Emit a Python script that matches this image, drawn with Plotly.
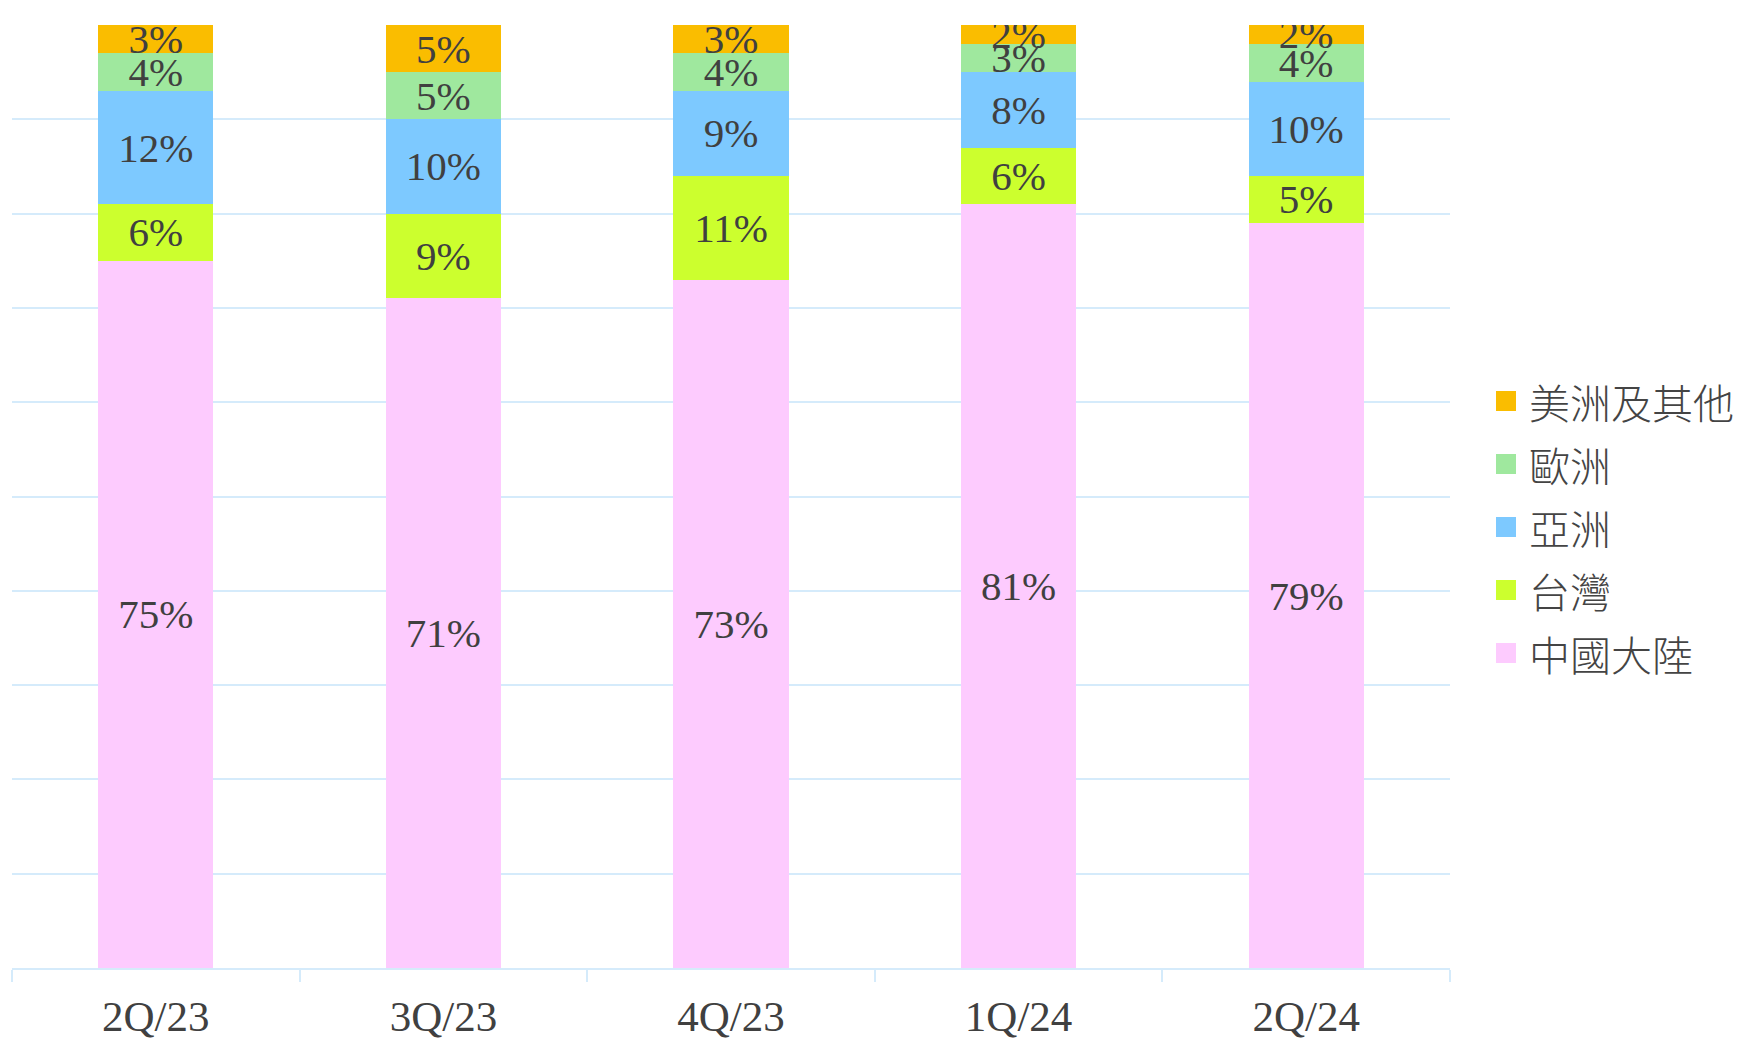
import plotly.graph_objects as go

categories = ["2Q/23", "3Q/23", "4Q/23", "1Q/24", "2Q/24"]
series_names = ["中國大陸", "台灣", "亞洲", "歐洲", "美洲及其他"]
china = [75, 71, 73, 81, 79]
taiwan = [6, 9, 11, 6, 5]
asia = [12, 10, 9, 8, 10]
europe = [4, 5, 4, 3, 4]
americas = [3, 5, 3, 2, 2]
colors = ["#FDCBFE", "#CCFF2E", "#7DC9FF", "#9FE89E", "#FABD00"]

series_values = [china, taiwan, asia, europe, americas]

W, H = 1741, 1039
# target plot area in screenshot pixels: x 12..1450, y 25..968
ML = 12
MT = 25
MR = W - 1450
MB = H - 968
PW, PH = W - ML - MR, H - MT - MB

fig = go.Figure()
for name, vals, col in zip(series_names, series_values, colors):
    fig.add_trace(go.Bar(
        x=categories, y=vals, name=name,
        marker=dict(color=col, line=dict(width=0)),
        text=[f"{v}%" for v in vals],
        textposition="inside", insidetextanchor="middle",
        textangle=0,
        textfont=dict(family="Liberation Serif", size=41, color="#404040"),
        showlegend=False,
        hoverinfo="skip",
    ))

# manual legend (top entry = last series)
leg_x_marker = 1496
leg_x_text = 1527
leg_y0 = 401
leg_dy = 63
for i, (name, col) in enumerate(reversed(list(zip(series_names, colors)))):
    yc = leg_y0 + i * leg_dy
    fig.add_shape(type="rect", xref="paper", yref="paper",
                  x0=(leg_x_marker - ML) / PW,
                  x1=(leg_x_marker + 20 - ML) / PW,
                  y0=1 - (yc - 10 - MT) / PH,
                  y1=1 - (yc + 10 - MT) / PH,
                  fillcolor=col, line=dict(width=0))
    fig.add_annotation(xref="paper", yref="paper",
                       x=(leg_x_text - ML) / PW,
                       y=1 - (yc - MT) / PH,
                       xanchor="left", yanchor="middle", showarrow=False,
                       text=name,
                       font=dict(family="Noto Sans CJK TC", size=41, color="#444444", weight=300))

fig.update_layout(
    barmode="stack",
    bargap=0.6,
    width=W, height=H,
    margin=dict(l=ML, r=MR, t=MT, b=MB, autoexpand=False),
    paper_bgcolor="white", plot_bgcolor="white",
    uniformtext=dict(minsize=41, mode="show"),
    showlegend=False,
)
fig.update_xaxes(
    showline=True, linecolor="#D5EBFB", linewidth=2,
    ticks="outside", tickson="boundaries", ticklen=12, tickcolor="#D5EBFB", tickwidth=2,
    tickfont=dict(family="Liberation Serif", size=43, color="#404040"),
    ticklabelstandoff=9,
    showgrid=False, automargin=False,
)
fig.update_yaxes(
    range=[0, 100], dtick=10, showticklabels=False,
    showgrid=True, gridcolor="#D5EBFB", gridwidth=2, zeroline=False,
)

fig.write_html(
    "out.html",
    config={"displayModeBar": False},
    post_script="document.body.style.margin='0';document.body.style.overflow='hidden';",
)
